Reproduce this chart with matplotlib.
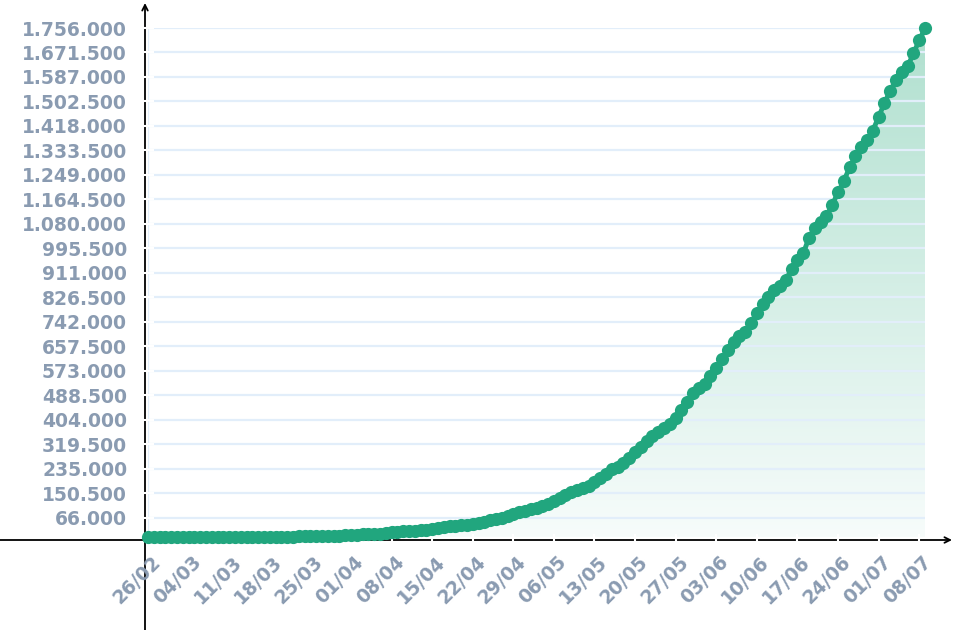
import numpy as np
import pandas as pd
import matplotlib
matplotlib.use("Agg")
import matplotlib.pyplot as plt
from matplotlib.colors import LinearSegmentedColormap
from matplotlib.ticker import FuncFormatter
from matplotlib.transforms import ScaledTranslation

# cumulative confirmed cases, one value per day from 26/02 to 09/07
start_date = "2020-02-26"
cases_feb = [1, 1, 1, 2]
cases_mar = [2, 2, 2, 3, 8, 13, 19, 25, 25, 34, 52, 77, 98, 121, 200, 234,
             291, 428, 621, 904, 1128, 1546, 1891, 2201, 2433, 2915, 3417,
             3904, 4256, 4579, 5717]
cases_apr = [6836, 8044, 9056, 10360, 11130, 12056, 13717, 15927, 17857,
             19638, 20727, 22169, 23430, 25262, 28320, 30425, 33682, 36599,
             38654, 40581, 43079, 45757, 49492, 52995, 58509, 61888, 66501,
             71886, 78162, 85380]
cases_may = [91299, 96396, 101147, 107780, 114715, 125218, 135106, 145328,
             155939, 162699, 168331, 177589, 188974, 202918, 218223, 233142,
             241080, 254220, 271628, 291579, 310087, 330890, 347398, 363211,
             374898, 391222, 411821, 438238, 465166, 498440, 514849]
cases_jun = [526447, 555383, 584016, 614941, 645771, 672846, 691758, 707412,
             739503, 772416, 802828, 828810, 850514, 867624, 888271, 923189,
             955377, 978142, 1032913, 1067579, 1085038, 1106470, 1145906,
             1188631, 1228114, 1274974, 1313667, 1344143, 1368195, 1402041]
cases_jul = [1448753, 1496858, 1539081, 1577004, 1603055, 1623284, 1668589,
             1713160, 1755779]

y_ticks = [66000 + 84500 * i for i in range(21)]

cases = np.array(cases_feb + cases_mar + cases_apr + cases_may + cases_jun + cases_jul)
dates = pd.date_range(start_date, periods=len(cases), freq="D")
days = np.arange(len(cases))

green = "#21a67e"
label_color = "#8a9bb1"
grid_color = "#e2eefa"

W, H = 955, 630
fig = plt.figure(figsize=(W / 100, H / 100), dpi=100)

# axes box in pixels: data area from x=148 to 925, y top=28, x axis at 540
left, right, top, bottom = 148, 925, 28, 540
ax = fig.add_axes([left / W, (H - bottom) / H, (right - left) / W, (bottom - top) / H])

ymax = y_ticks[-1]
ax.set_xlim(0, days[-1])
ax.set_ylim(-3 / 509 * ymax, ymax)

for s in ax.spines.values():
    s.set_visible(False)

# gradient fill under the curve
cmap = LinearSegmentedColormap.from_list("fillg", ["#f7fcfb", "#b0e0cf"])
grad = np.linspace(0, 1, 256).reshape(-1, 1)
poly = ax.fill_between(days, 0, cases, color="none", lw=0)
img = ax.imshow(grad, cmap=cmap, origin="lower", aspect="auto",
                extent=[0, days[-1], 0, ymax], zorder=1)
img.set_clip_path(poly.get_paths()[0], transform=ax.transData)

# grid
ax.set_yticks(y_ticks)
ax.yaxis.grid(True, color=grid_color, lw=1.6, zorder=1.5)
ax.axvline(0, color=grid_color, lw=1.6, zorder=1.5)

ax.plot(days, cases, color=green, lw=3.5, marker="o", ms=9.5, mew=0,
        zorder=3, clip_on=False)

# ticks
xt = days[::7]
ax.set_xticks(xt)
ax.set_xticklabels([d.strftime("%d/%m") for d in dates[::7]])
ax.yaxis.set_major_formatter(FuncFormatter(lambda v, p: f"{int(v):,}".replace(",", ".")))
ax.tick_params(axis="both", colors="white", width=1.5, length=8, direction="inout",
               labelcolor=label_color, labelsize=13.5)
ax.tick_params(axis="y", pad=11)
ax.tick_params(axis="x", pad=5)
shift = ScaledTranslation(3 / 100, 0, fig.dpi_scale_trans)
for lab in ax.get_yticklabels():
    lab.set_fontweight("bold")
for lab in ax.get_xticklabels():
    lab.set_fontweight("bold")
    lab.set_rotation(45)
    lab.set_ha("right")
    lab.set_va("top")
    lab.set_rotation_mode("anchor")
    lab.set_transform(lab.get_transform() + shift)

# axis arrows
arrow = dict(arrowstyle="->", lw=1.3, color="black", shrinkA=0, shrinkB=0)
ax.annotate("", xy=(145 / W, 1 - 3 / H), xytext=(145 / W, 0),
            xycoords="figure fraction", textcoords="figure fraction",
            arrowprops=arrow, annotation_clip=False, zorder=1.2)
ax.annotate("", xy=(952 / W, (H - 540) / H), xytext=(0, (H - 540) / H),
            xycoords="figure fraction", textcoords="figure fraction",
            arrowprops=arrow, annotation_clip=False, zorder=1.2)

fig.savefig("out.png", dpi=100, facecolor="white")
